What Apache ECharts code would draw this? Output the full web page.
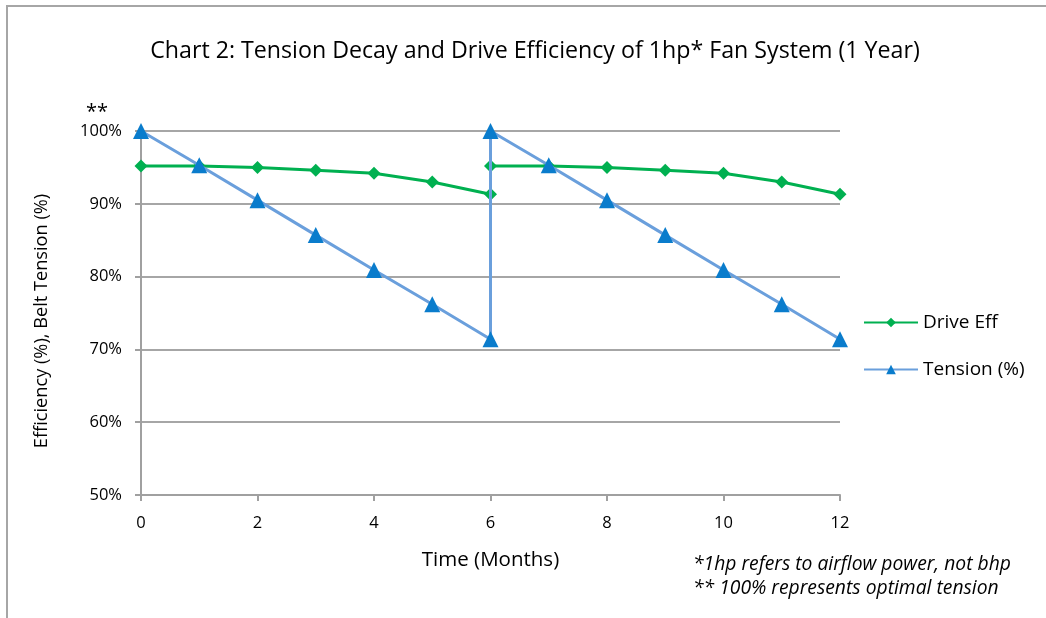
<!DOCTYPE html>
<html>
<head>
<meta charset="utf-8">
<script src="https://cdn.jsdelivr.net/npm/echarts@6/dist/echarts.min.js"></script>
<style>
html,body{margin:0;padding:0;background:#fff;}
#c{width:1046px;height:618px;}
</style>
</head>
<body>
<div id="c"></div>
<script>
const months = [0, 1, 2, 3, 4, 5, 6, 6, 7, 8, 9, 10, 11, 12];
const driveEff = [95.2, 95.2, 95.0, 94.6, 94.2, 93.0, 91.3, 95.2, 95.2, 95.0, 94.6, 94.2, 93.0, 91.3];
const tension = [100, 95.3, 90.5, 85.7, 80.9, 76.2, 71.4, 100, 95.3, 90.5, 85.7, 80.9, 76.2, 71.4];
const seriesNames = ['Drive Eff', 'Tension (%)'];
const titleText = 'Chart 2: Tension Decay and Drive Efficiency of 1hp* Fan System (1 Year)';
const xName = 'Time (Months)';
const yName = 'Efficiency (%), Belt Tension (%)';
const notes = ['*1hp refers to airflow power, not bhp', '** 100% represents optimal tension'];

const FONT = "'Open Sans', sans-serif";
const chart = echarts.init(document.getElementById('c'), null, {renderer: 'canvas'});
const pair = (xs, ys) => xs.map((x, i) => [x, ys[i]]);

chart.setOption({
  backgroundColor: '#fff',
  animation: false,
  textStyle: {fontFamily: FONT, color: '#000'},
  title: {
    text: titleText, left: 530, top: 35, textAlign: 'center',
    textStyle: {fontFamily: FONT, fontSize: 23.2, fontWeight: 'normal', color: '#000'}
  },
  legend: {
    orient: 'vertical', left: 858, top: 308, itemWidth: 54, itemHeight: 12, itemGap: 28,
    textStyle: {fontFamily: FONT, fontSize: 19, color: '#000'},
    data: seriesNames
  },
  grid: {left: 141, right: 206, top: 131, bottom: 123},
  xAxis: {
    type: 'value', min: 0, max: 12, interval: 2,
    name: xName, nameLocation: 'middle', nameGap: 55,
    nameTextStyle: {fontFamily: FONT, fontSize: 20.5, color: '#000'},
    axisLine: {show: true, lineStyle: {color: '#a0a0a0', width: 2}},
    axisTick: {show: true, length: 6, lineStyle: {color: '#a0a0a0', width: 2}},
    axisLabel: {fontFamily: FONT, fontSize: 16.5, color: '#000', margin: 20},
    splitLine: {show: false}
  },
  yAxis: {
    type: 'value', min: 50, max: 100, interval: 10,
    axisLine: {show: true, lineStyle: {color: '#a0a0a0', width: 2}},
    axisTick: {show: true, length: 6, lineStyle: {color: '#a0a0a0', width: 2}},
    axisLabel: {fontFamily: FONT, fontSize: 16.5, color: '#000', margin: 19, formatter: v => v + '%'},
    splitLine: {show: true, lineStyle: {color: '#a6a6a6', width: 2}}
  },
  series: [
    {
      name: seriesNames[0], type: 'line', data: pair(months, driveEff),
      symbol: 'diamond', symbolSize: 13,
      lineStyle: {color: '#00b050', width: 3},
      itemStyle: {color: '#00b050'}, z: 2
    },
    {
      name: seriesNames[1], type: 'line', data: pair(months, tension),
      symbol: 'triangle', symbolSize: 16,
      lineStyle: {color: '#6a9fdc', width: 3},
      itemStyle: {color: '#0a7ccc'}, z: 3
    }
  ],
  graphic: [
    {type: 'polyline', shape: {points: [[7, 618], [7, 6], [1046, 6]]}, style: {stroke: '#a6a6a6', lineWidth: 2, fill: null}},
    {type: 'text', x: 42, y: 321, rotation: Math.PI / 2, style: {text: yName, fontFamily: FONT, fontSize: 18.2, fill: '#000', align: 'center', verticalAlign: 'middle'}},
    {type: 'text', x: 86, y: 112, style: {text: '**', fontFamily: FONT, fontSize: 20, fill: '#000', verticalAlign: 'middle'}},
    {type: 'text', x: 693, y: 565, style: {text: notes[0], fontFamily: FONT, fontSize: 19.3, fontStyle: 'italic', fill: '#000', verticalAlign: 'middle'}},
    {type: 'text', x: 693, y: 589, style: {text: notes[1], fontFamily: FONT, fontSize: 19.3, fontStyle: 'italic', fill: '#000', verticalAlign: 'middle'}}
  ]
});
</script>
</body>
</html>
